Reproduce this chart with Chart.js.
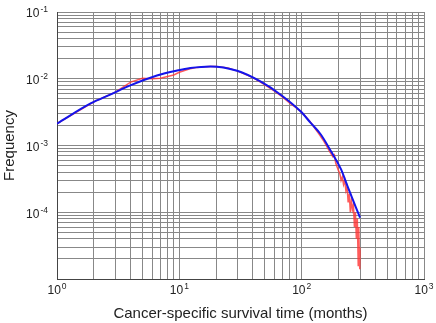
<!DOCTYPE html>
<html>
<head>
<meta charset="utf-8">
<script src="https://cdn.jsdelivr.net/npm/chart.js@4.4.0/dist/chart.umd.min.js"></script>
<style>
  html, body { margin: 0; padding: 0; background: #fff; }
  #wrap { width: 436px; height: 323px; }
</style>
</head>
<body>
<div id="wrap"><canvas id="chart"></canvas></div>
<script>
// Curva ajustada (azul)
const fitMonths = [1, 1.9, 2.72, 3.97, 6.56, 9.58, 12.3, 18, 29.7, 46, 67.3, 97.9, 118.5, 143.4, 173.6, 210, 236, 300];
const fitFreq = [2.13e-3, 4.3e-3, 5.77e-3, 7.94e-3, 1.12e-2, 1.33e-2, 1.45e-2, 1.53e-2, 1.315e-2, 9.1e-3, 5.77e-3, 3.25e-3, 2.18e-3, 1.46e-3, 8.2e-4, 4.38e-4, 2.5e-4, 8.3e-5];

// Datos observados (rojo)
const obsMonths = [1, 2, 3, 4, 5, 6, 7, 8, 9, 10, 12, 14, 16, 18, 20, 25, 30, 35, 40, 45, 50, 60, 70, 80, 90, 100,
    110, 120, 130, 140, 150, 160, 170, 180, 185, 190, 200, 205, 210, 215, 220, 225, 230, 235, 240, 245, 250,
    255, 260, 265, 270, 275, 280, 285, 290, 293, 295, 298, 299, 300];
const obsFreq = [2.13e-3, 4.5e-3, 6.3e-3, 8.9e-3, 1.02e-2, 1.0e-2, 1.02e-2, 1.08e-2, 1.14e-2, 1.25e-2, 1.4e-2, 1.48e-2, 1.51e-2, 1.52e-2, 1.52e-2, 1.45e-2, 1.3e-2, 1.16e-2, 1.04e-2, 9.1e-3, 8.1e-3, 6.5e-3, 5.3e-3, 4.3e-3, 3.7e-3, 3.15e-3,
    2.6e-3, 2.15e-3, 1.75e-3, 1.45e-3, 1.2e-3, 9.8e-4, 8.0e-4, 6.8e-4, 7.2e-4, 5.4e-4, 4.2e-4, 3.8e-4, 3.0e-4, 3.4e-4, 2.6e-4, 3.0e-4, 2.1e-4, 2.4e-4, 1.4e-4, 1.9e-4, 1.0e-4,
    1.5e-4, 1.1e-4, 1.3e-4, 6e-5, 1.0e-4, 4e-5, 8e-5, 1.6e-5, 6e-5, 3e-5, 2e-5, 1.4e-5, 2.7e-5];

// Etiquetas de los ejes (décadas)
const xDecades = [1, 10, 100, 1000];
const yDecades = [1e-5, 1e-4, 1e-3, 1e-2, 1e-1];
const yLabelled = [1e-4, 1e-3, 1e-2, 1e-1];

const fam = 'Liberation Sans, Arial, sans-serif';
const titleFont = { family: fam, size: 15 };

function logTicks(decades) {
    const t = [];
    for (let i = 0; i < decades.length - 1; i++) {
        for (let k = 1; k <= 9; k++) t.push({ value: k * decades[i] });
    }
    t.push({ value: decades[decades.length - 1] });
    return t;
}

// dibuja "10" con el exponente en superíndice
function drawPow(ctx, value, x, y, align) {
    const base = '10';
    const exp = String(Math.round(Math.log10(value)));
    ctx.font = '12px ' + fam;
    const wb = ctx.measureText(base).width;
    ctx.font = '8.5px ' + fam;
    const we = ctx.measureText(exp).width;
    let start = align === 'center' ? x - (wb + we + 1) / 2 : x - (wb + we + 1);
    ctx.textBaseline = 'middle';
    ctx.textAlign = 'left';
    ctx.font = '12px ' + fam;
    ctx.fillText(base, start, y);
    ctx.font = '8.5px ' + fam;
    ctx.fillText(exp, start + wb + 1, y - 4);
}

const powLabels = {
    id: 'powLabels',
    afterDraw(chart) {
        const ctx = chart.ctx;
        const xs = chart.scales.x;
        const ys = chart.scales.y;
        ctx.save();
        ctx.fillStyle = '#222';
        xDecades.forEach(d => drawPow(ctx, d, xs.getPixelForValue(d), xs.top + 12, 'center'));
        yLabelled.forEach(d => drawPow(ctx, d, ys.right - 9, ys.getPixelForValue(d) + 2, 'right'));
        ctx.restore();
    }
};

new Chart(document.getElementById('chart'), {
    type: 'line',
    data: {
        datasets: [{
            label: 'Ajuste',
            data: fitMonths.map((m, i) => ({ x: m, y: fitFreq[i] })),
            borderColor: 'rgb(20, 20, 235)',
            borderWidth: 2,
            pointRadius: 0,
            cubicInterpolationMode: 'monotone'
        }, {
            label: 'Observado',
            data: obsMonths.map((m, i) => ({ x: m, y: obsFreq[i] })),
            borderColor: 'rgba(255, 50, 50, 0.8)',
            borderWidth: 1.5,
            pointRadius: 0,
            tension: 0
        }]
    },
    options: {
        responsive: true,
        maintainAspectRatio: false,
        animation: false,
        layout: { padding: { top: 12, right: 12, left: 0, bottom: 0 } },
        plugins: { legend: { display: false }, tooltip: { enabled: false } },
        scales: {
            x: {
                type: 'logarithmic',
                min: 1,
                max: 1000,
                afterBuildTicks: s => { s.ticks = logTicks(xDecades); },
                afterFit: s => { s.height = 44; },
                grid: { color: '#888', lineWidth: 1, drawTicks: false },
                border: { color: '#444' },
                ticks: { display: false },
                title: { display: true, text: 'Cancer-specific survival time (months)', color: '#222', font: titleFont, padding: { top: 0, bottom: 0 } }
            },
            y: {
                type: 'logarithmic',
                min: 1e-5,
                max: 1e-1,
                afterBuildTicks: s => { s.ticks = logTicks(yDecades); },
                afterFit: s => { s.width = 57; },
                grid: { color: '#888', lineWidth: 1, drawTicks: false },
                border: { color: '#444' },
                ticks: { display: false },
                title: { display: true, text: 'Frequency', color: '#222', font: titleFont, padding: { top: 1, bottom: 0 } }
            }
        }
    },
    plugins: [powLabels]
});
</script>
</body>
</html>
